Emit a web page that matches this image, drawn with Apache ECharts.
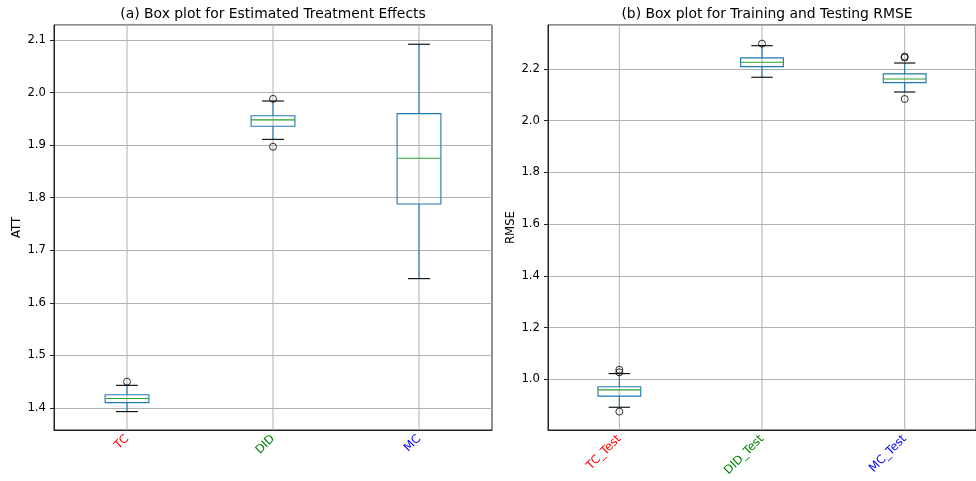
<!DOCTYPE html>
<html>
<head>
<meta charset="utf-8">
<script src="https://cdn.jsdelivr.net/npm/echarts@6/dist/echarts.min.js"></script>
<style>
  html, body { margin: 0; padding: 0; background: #fff; }
  #main { width: 976px; height: 481px; }
</style>
</head>
<body>
<div id="main"></div>
<script>
// categorias y estadisticas (low, q1, mediana, q3, high)
var attCats = ['TC', 'DID', 'MC'];
var attStats = [
  [1.393, 1.410, 1.418, 1.425, 1.443],
  [1.911, 1.936, 1.948, 1.956, 1.984],
  [1.646, 1.788, 1.875, 1.960, 2.092]
];
var attOutliers = [[0, 1.450], [1, 1.988], [1, 1.897]];

var rmseCats = ['TC_Test', 'DID_Test', 'MC_Test'];
var rmseStats = [
  [0.892, 0.935, 0.959, 0.971, 1.022],
  [2.168, 2.209, 2.226, 2.243, 2.290],
  [2.111, 2.147, 2.161, 2.181, 2.223]
];
var rmseOutliers = [[0, 1.037], [0, 1.027], [0, 0.875], [1, 2.298], [2, 2.248], [2, 2.244], [2, 2.084]];

var labelColors = ['red', 'green', 'blue'];

var FONT = 'DejaVu Sans';
var TICK_SIZE = 11.7;

// dibuja una caja estilo matplotlib: bigotes azules, caps negros, mediana verde
// (la linea vertical gris del grid se dibuja aqui para que quede en el centro de la categoria)
function renderBox(params, api) {
  var x = api.value(0);
  var low = api.coord([x, api.value(1)]);
  var q1 = api.coord([x, api.value(2)]);
  var med = api.coord([x, api.value(3)]);
  var q3 = api.coord([x, api.value(4)]);
  var high = api.coord([x, api.value(5)]);
  var band = api.size([1, 0])[0];
  var hw = band * 0.15;
  var cw = band * 0.075;
  var cx = low[0];
  var cs = params.coordSys;
  var blue = '#1f77b4';
  return {
    type: 'group',
    children: [
      { type: 'line', z2: 0, shape: { x1: cx, y1: cs.y, x2: cx, y2: cs.y + cs.height }, style: { stroke: '#b0b0b0', lineWidth: 1 } },
      { type: 'line', z2: 1, shape: { x1: cx, y1: low[1], x2: cx, y2: q1[1] }, style: { stroke: blue, lineWidth: 1.1 } },
      { type: 'line', z2: 1, shape: { x1: cx, y1: q3[1], x2: cx, y2: high[1] }, style: { stroke: blue, lineWidth: 1.1 } },
      { type: 'rect', z2: 1, shape: { x: cx - hw, y: q3[1], width: hw * 2, height: q1[1] - q3[1] }, style: { fill: 'none', stroke: blue, lineWidth: 1.1 } },
      { type: 'line', z2: 2, shape: { x1: cx - hw, y1: med[1], x2: cx + hw, y2: med[1] }, style: { stroke: '#2ca02c', lineWidth: 1.1 } },
      { type: 'line', z2: 1, shape: { x1: cx - cw, y1: low[1], x2: cx + cw, y2: low[1] }, style: { stroke: '#000', lineWidth: 1.1 } },
      { type: 'line', z2: 1, shape: { x1: cx - cw, y1: high[1], x2: cx + cw, y2: high[1] }, style: { stroke: '#000', lineWidth: 1.1 } }
    ]
  };
}

function toBoxData(stats) {
  return stats.map(function (s, i) { return [i].concat(s); });
}

function makeXAxis(cats, gridIndex) {
  return {
    type: 'category',
    gridIndex: gridIndex,
    data: cats,
    boundaryGap: true,
    axisLine: { lineStyle: { color: '#222', width: 1 } },
    axisTick: { alignWithLabel: true, length: 4, lineStyle: { color: '#222' } },
    axisLabel: {
      rotate: 45,
      fontFamily: FONT,
      fontSize: TICK_SIZE,
      margin: 7,
      color: function (value, index) { return labelColors[index]; }
    },
    splitLine: { show: false }
  };
}

function makeYAxis(name, min, max, gridIndex) {
  return {
    type: 'value',
    gridIndex: gridIndex,
    name: name,
    nameLocation: 'middle',
    nameGap: 31,
    nameTextStyle: { fontFamily: FONT, fontSize: TICK_SIZE, color: '#000' },
    min: min,
    max: max,
    splitNumber: 8,
    axisLine: { show: true, lineStyle: { color: '#222', width: 1 } },
    axisTick: { show: true, length: 4, lineStyle: { color: '#222' } },
    axisLabel: {
      fontFamily: FONT,
      fontSize: TICK_SIZE,
      color: '#000',
      margin: 8,
      showMinLabel: false,
      showMaxLabel: false,
      formatter: function (v) { return v.toFixed(1); }
    },
    splitLine: { show: true, lineStyle: { color: '#b0b0b0', width: 1 } }
  };
}

var chartDom = document.getElementById('main');
var myChart = echarts.init(chartDom);

var titleStyle = { fontFamily: FONT, fontSize: 13.9, fontWeight: 'normal', color: '#000' };

var option = {
  backgroundColor: '#fff',
  animation: false,
  title: [
    { text: '(a) Box plot for Estimated Treatment Effects', left: 273, top: 7, padding: 0, textAlign: 'center', textStyle: titleStyle },
    { text: '(b) Box plot for Training and Testing RMSE', left: 767, top: 7, padding: 0, textAlign: 'center', textStyle: titleStyle }
  ],
  grid: [
    { left: 54, right: 484, top: 25, bottom: 51, show: true, borderColor: '#222', borderWidth: 1 },
    { left: 548, right: -10, top: 25, bottom: 51, show: true, borderColor: '#222', borderWidth: 1 }
  ],
  xAxis: [makeXAxis(attCats, 0), makeXAxis(rmseCats, 1)],
  yAxis: [makeYAxis('ATT', 1.358, 2.1286, 0), makeYAxis('RMSE', 0.804, 2.370, 1)],
  series: [
    { type: 'custom', xAxisIndex: 0, yAxisIndex: 0, renderItem: renderBox, data: toBoxData(attStats), z: 3 },
    { type: 'scatter', xAxisIndex: 0, yAxisIndex: 0, data: attOutliers, symbol: 'circle', symbolSize: 7,
      itemStyle: { color: 'rgba(0,0,0,0)', borderColor: '#000', borderWidth: 1 }, z: 4 },
    { type: 'custom', xAxisIndex: 1, yAxisIndex: 1, renderItem: renderBox, data: toBoxData(rmseStats), z: 3 },
    { type: 'scatter', xAxisIndex: 1, yAxisIndex: 1, data: rmseOutliers, symbol: 'circle', symbolSize: 7,
      itemStyle: { color: 'rgba(0,0,0,0)', borderColor: '#000', borderWidth: 1 }, z: 4 }
  ]
};

option && myChart.setOption(option);
</script>
</body>
</html>
